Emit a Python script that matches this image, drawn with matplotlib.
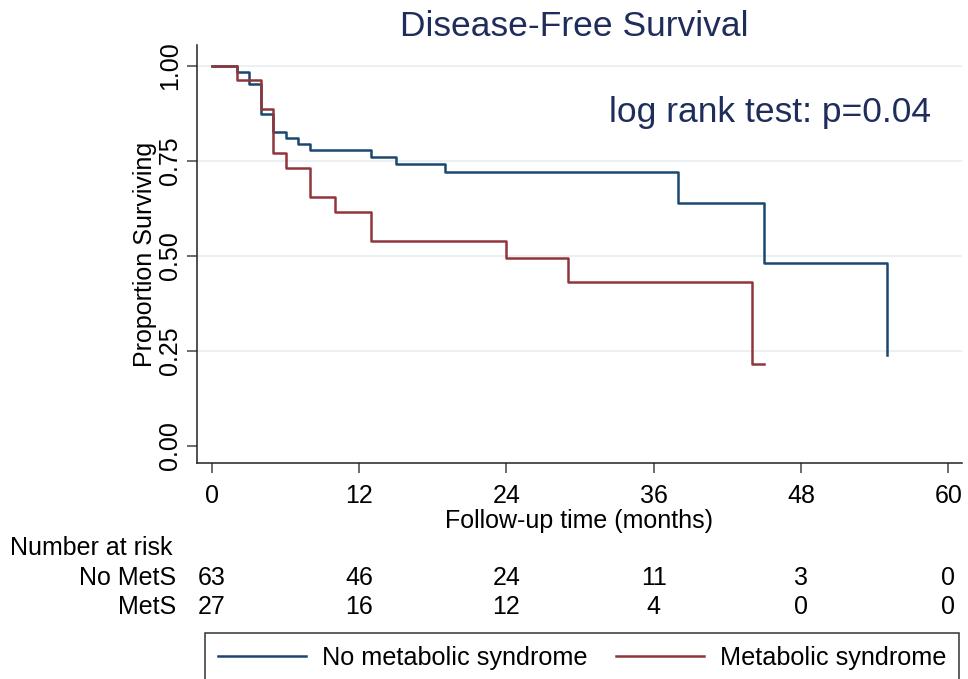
"""
Disease-free survival, Kaplan-Meier curves by metabolic syndrome status
"""

import matplotlib
matplotlib.use("Agg")
import matplotlib.pyplot as plt
import matplotlib.transforms as mtransforms

plt.rcParams['font.family'] = ['Liberation Sans', 'DejaVu Sans']

# Kaplan-Meier steps (months, survival)
NO_METS_T = [0, 2, 3, 4, 5, 6, 7, 8, 13, 15, 19, 38, 45, 55]
NO_METS_S = [1.0, 0.984, 0.952, 0.873, 0.825, 0.809, 0.794, 0.778,
             0.761, 0.741, 0.720, 0.640, 0.480, 0.240]
METS_T = [0, 2, 4, 5, 6, 8, 10, 13, 24, 29, 44, 45]
METS_S = [1.0, 0.963, 0.887, 0.770, 0.732, 0.656, 0.616, 0.539,
          0.495, 0.432, 0.216, 0.216]

X_TICKS = [0, 12, 24, 36, 48, 60]
Y_TICKS = [0.0, 0.25, 0.5, 0.75, 1.0]
Y_LABELS = ["0.00", "0.25", "0.50", "0.75", "1.00"]

RISK_GROUPS = ["No MetS", "MetS"]
RISK_NO_METS = [63, 46, 24, 11, 3, 0]
RISK_METS = [27, 16, 12, 4, 0, 0]

BLUE = "#1a476f"
RED = "#90353b"
NAVY = "#1f2d5a"

fig = plt.figure(figsize=(9.68, 6.79), dpi=100)
ax = fig.add_axes([0.2035, 0.318, 0.79, 0.616])

for y in Y_TICKS[1:]:
    ax.axhline(y, color="#e6eef1", lw=1.2, zorder=0)

l1, = ax.step(NO_METS_T, NO_METS_S, where="post", color=BLUE, lw=1.8,
              label="No metabolic syndrome")
l2, = ax.step(METS_T, METS_S, where="post", color=RED, lw=1.8,
              label="Metabolic syndrome")

ax.set_xlim(-1.22, 61.1)
ax.set_ylim(-0.045, 1.055)
ax.set_xticks(X_TICKS)
ax.set_yticks(Y_TICKS)
ax.set_yticklabels(Y_LABELS, rotation=90, va="center")
ax.tick_params(labelsize=18, length=7, width=1.1, color="#444444", pad=8)
ax.tick_params(axis="y", pad=4)
for s in ["top", "right"]:
    ax.spines[s].set_visible(False)
for s in ["left", "bottom"]:
    ax.spines[s].set_linewidth(1.1)
    ax.spines[s].set_color("#222222")

ax.set_xlabel("Follow-up time (months)", fontsize=18, labelpad=1)
ax.set_ylabel("Proportion Surviving", fontsize=18)
ax.yaxis.set_label_coords(-0.052, 0.5)

fig.text(574 / 968, 1 - 26 / 679, "Disease-Free Survival", fontsize=25.5,
         color=NAVY, ha="center", va="center")
ax.text(0.539, 0.838, "log rank test: p=0.04", transform=ax.transAxes,
        fontsize=25.5, color=NAVY, ha="left", va="center")

# number at risk table
trans = mtransforms.blended_transform_factory(ax.transData, fig.transFigure)
fig.text(10 / 968, 1 - 548 / 679, "Number at risk", fontsize=18,
         ha="left", va="center")
for row, (name, counts) in enumerate(zip(RISK_GROUPS, [RISK_NO_METS, RISK_METS])):
    yy = 1 - (578 + 29 * row) / 679
    fig.text(176 / 968, yy, name, fontsize=18, ha="right", va="center")
    for t, n in zip(X_TICKS, counts):
        ax.text(t, yy, str(n), transform=trans, fontsize=18,
                ha="center", va="center", clip_on=False)

leg = fig.legend(handles=[l1, l2], loc="upper left", ncol=2,
                 bbox_to_anchor=(205 / 968, 1 - 633 / 679), borderaxespad=0,
                 fontsize=18.2, frameon=True, fancybox=False, edgecolor="black",
                 handlelength=3.5, handletextpad=0.64, borderpad=0.5,
                 columnspacing=1.1)
leg.get_frame().set_linewidth(1.1)

fig.savefig("out.png", dpi=100)
